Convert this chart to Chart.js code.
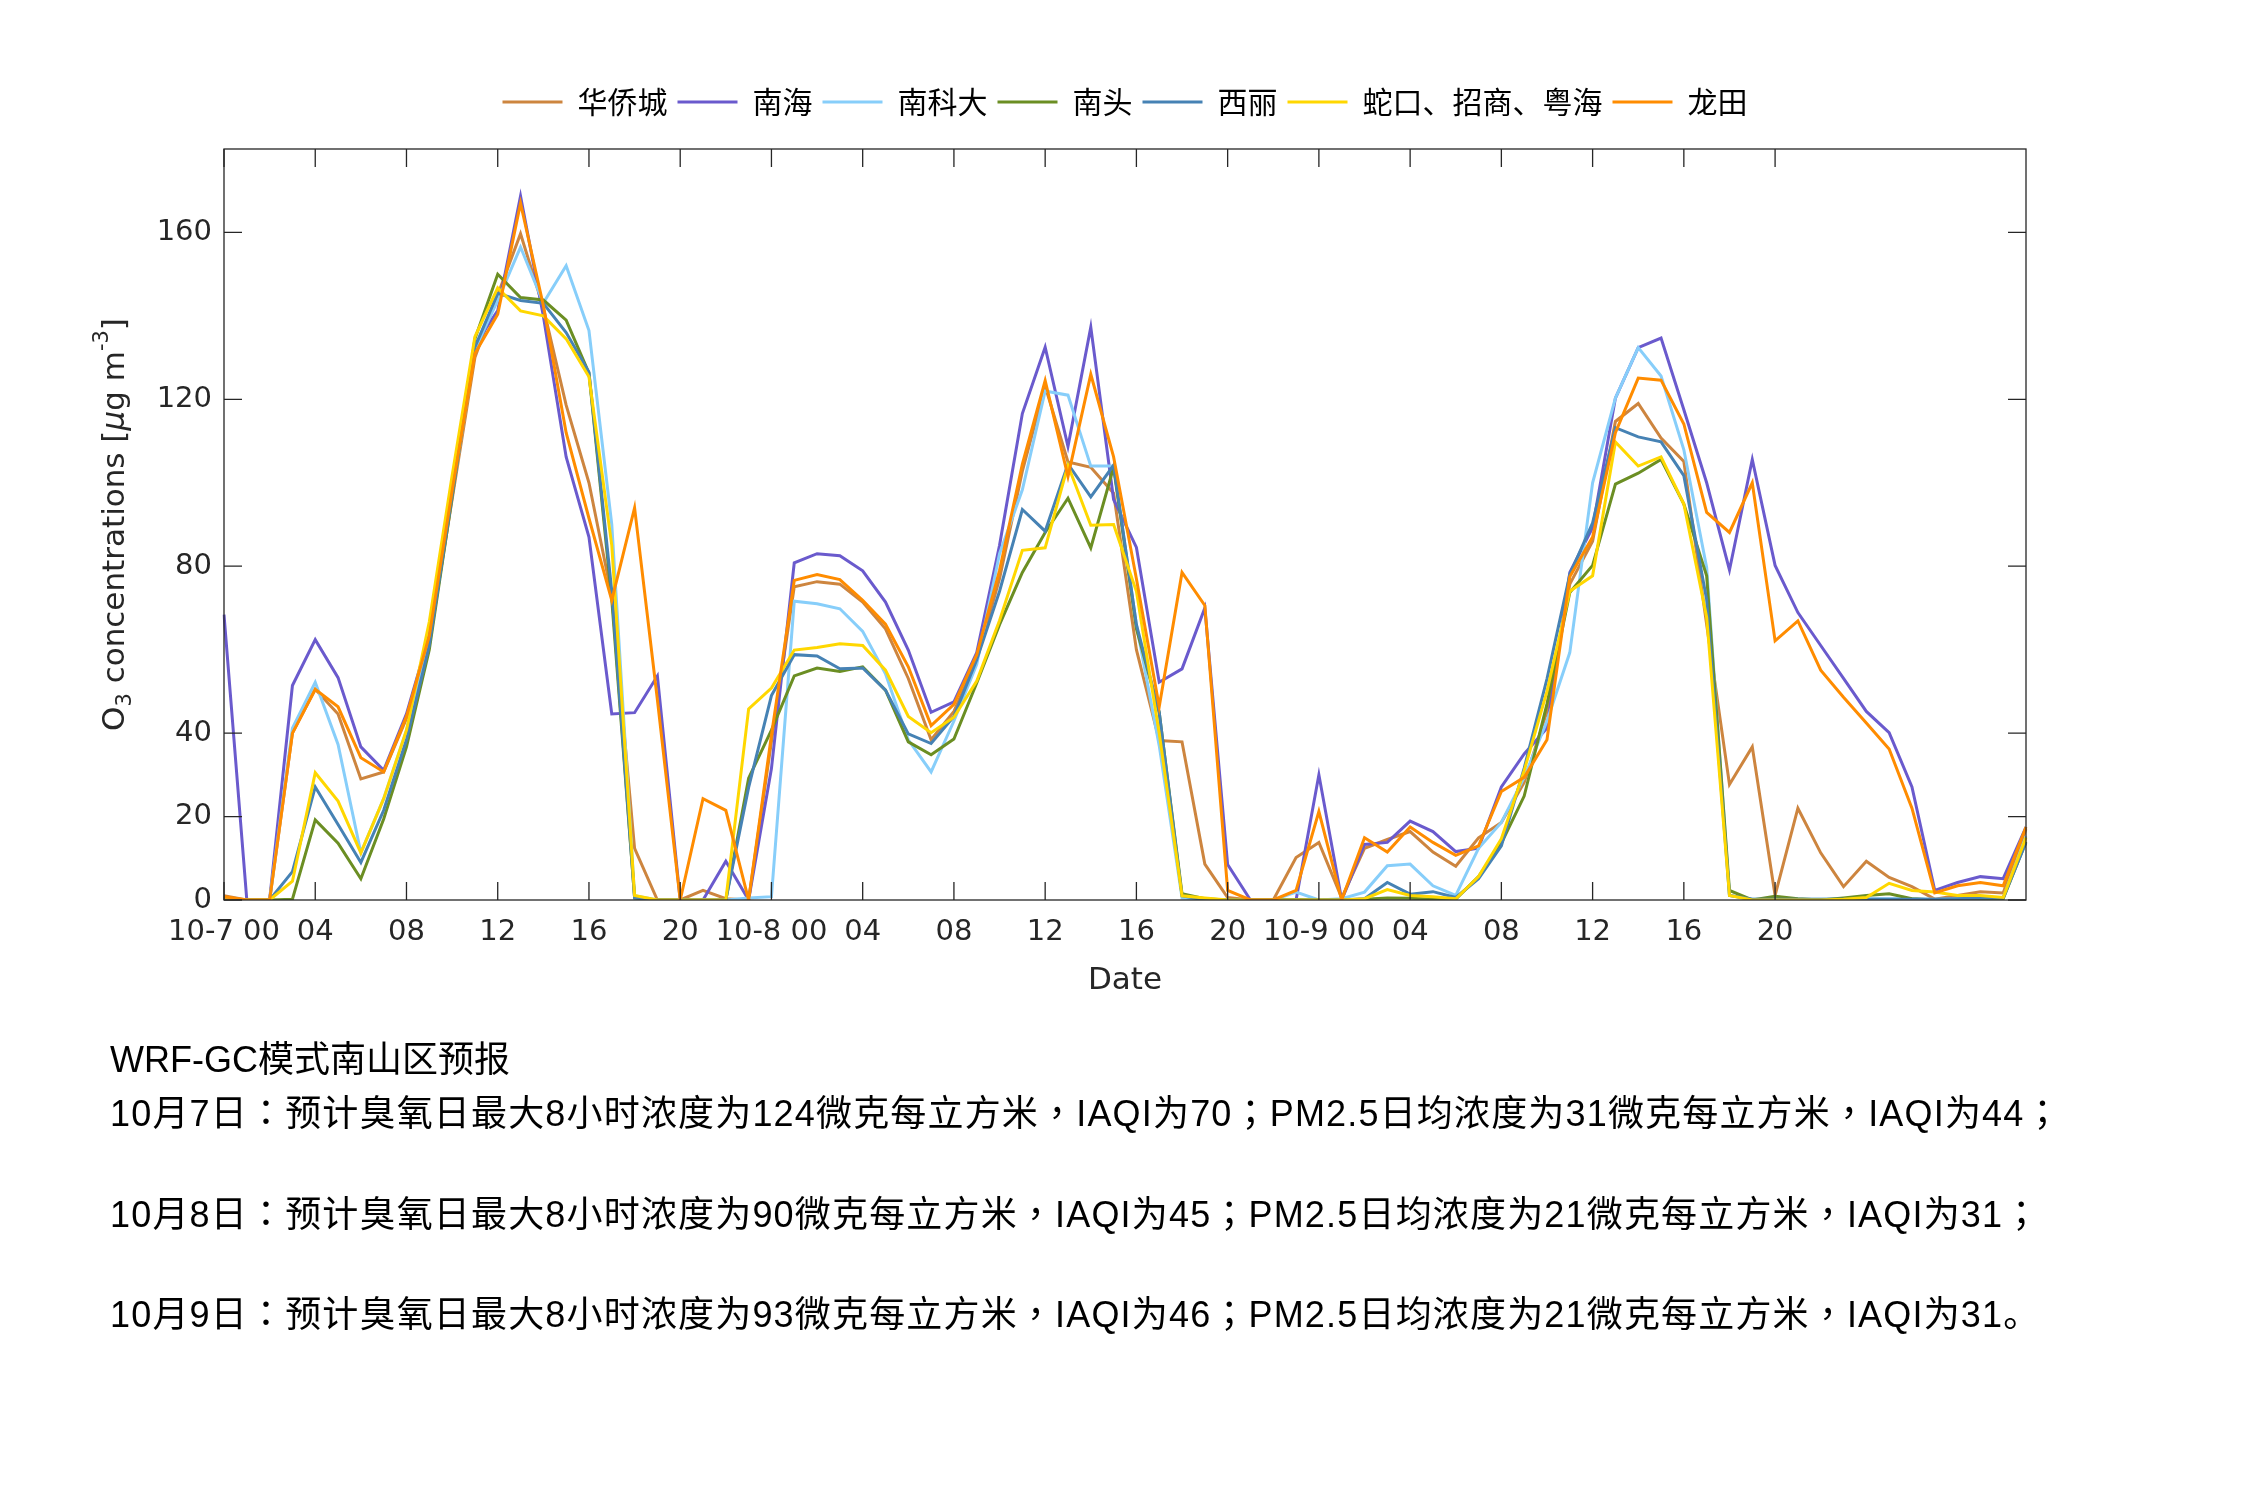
<!DOCTYPE html>
<html>
<head>
<meta charset="utf-8">
<script src="https://cdn.jsdelivr.net/npm/chart.js@4.4.1/dist/chart.umd.min.js"></script>
<style>
  html, body { margin: 0; padding: 0; background: #ffffff; }
  #wrap { position: relative; width: 2250px; height: 1500px; background: #ffffff; overflow: hidden; }
  #c { position: absolute; left: 0; top: 0; }
  .t { position: absolute; left: 110px; font-family: 'Liberation Sans', 'Noto Sans CJK SC', sans-serif; font-size: 36px; line-height: 36px; color: #000000; white-space: nowrap; }
  .p { font-family: 'Noto Sans CJK TC', 'Noto Sans CJK SC', sans-serif; }
</style>
</head>
<body>
<div id="wrap">
  <canvas id="c" width="2250" height="1500"></canvas>
  <div class="t" style="top:1042px">WRF-GC模式南山区预报</div>
  <div class="t body" style="top:1092px">10月7日：预计臭氧日最大8小时浓度为124微克每立方米，IAQI为70；PM2.5日均浓度为31微克每立方米，IAQI为44；</div>
  <div class="t body" style="top:1193px">10月8日：预计臭氧日最大8小时浓度为90微克每立方米，IAQI为45；PM2.5日均浓度为21微克每立方米，IAQI为31；</div>
  <div class="t body" style="top:1293px">10月9日：预计臭氧日最大8小时浓度为93微克每立方米，IAQI为46；PM2.5日均浓度为21微克每立方米，IAQI为31。</div>
</div>
<script>
// ---- categories ----
const days = ['10-7', '10-8', '10-9', '10-10'];
const hourCount = 80;
const xTickHours = [0, 4, 8, 12, 16, 20, 24, 28, 32, 36, 40, 44, 48, 52, 56, 60, 64, 68];
const yTickValues = [0, 20, 40, 80, 120, 160];

// ---- series names & colours ----
const seriesNames = ['华侨城', '南海', '南科大', '南头', '西丽', '蛇口、招商、粤海', '龙田'];
const seriesColors = ['#CD853F', '#6A5ACD', '#87CEFA', '#6B8E23', '#4682B4', '#FFD700', '#FF8C00'];

// ---- series values (hourly, O3 ug/m3) ----
const huaqiaocheng = [
  1, 0, 0, 40, 50.5, 44.6, 29, 30.7, 43.5, 62,
  96, 130, 145, 159.7, 142, 118.6, 100, 72.9, 12.4, 0,
  0, 2.3, 0.3, 0, 38, 75.1, 76.3, 75.7, 71.4, 65,
  53.1, 38.4, 45.2, 57.6, 77, 102.8, 123.2, 105, 103.7, 97.5,
  60, 38.2, 37.9, 8.6, 0.6, 0, 0, 10.2, 13.8, 0.5,
  12.4, 14.5, 16.4, 11.5, 8.1, 14.9, 18.6, 28.2, 45.2, 75.7,
  86, 114.7, 119, 110.7, 105.1, 66, 27.7, 36.7, 1.1, 22,
  11.3, 3.2, 9.3, 5.4, 3.2, 0.2, 1.1, 2, 1.7, 17
];
const nanhai = [
  68.4, 0, 0, 51.4, 62.4, 53.3, 36.7, 31.1, 44.6, 63.5,
  98, 133, 141.3, 168.7, 140, 106.2, 87, 44.6, 44.9, 53.7,
  0, 0, 9.3, 0, 31.5, 80.8, 83, 82.5, 78.9, 71.4,
  59.9, 45, 47.5, 59.3, 85, 116.6, 132.5, 108.7, 137.3, 96,
  84.5, 52.2, 55.4, 70, 8.5, 0, 0, 0, 30, 0,
  13.3, 13.8, 18.9, 16.4, 11.6, 12.4, 27.1, 35, 41.2, 78.5,
  89.3, 120.3, 132.4, 134.7, 117.5, 100, 79.1, 105.6, 80.2, 68.9,
  61, 53.1, 45.2, 40.1, 27.1, 2.3, 4.2, 5.6, 5.1, 17.5
];
const nankeda = [
  0, 0, 0, 41.2, 52.2, 37.3, 11.3, 24.3, 40.7, 62,
  97, 132, 143.7, 156.5, 143.1, 152, 136.5, 90, 1, 0,
  0, 0, 0, 0.5, 0.8, 71.6, 71, 69.8, 64.4, 54.2,
  38.4, 30.7, 42.9, 56.5, 83, 98.3, 122, 121, 104, 104,
  66, 37, 0.5, 0, 0, 0, 0, 1.9, 0, 0.3,
  1.9, 8.2, 8.6, 3.4, 1.1, 12.4, 18.6, 29.4, 42.9, 59.3,
  100, 120.3, 132.4, 125.6, 107.9, 79.7, 1.1, 0.2, 0.2, 0.2,
  0.2, 0.3, 0.3, 0.3, 0.3, 0.2, 0.3, 0.5, 0.5, 15.3
];
const nantou = [
  0, 0, 0, 0.2, 19.2, 13.6, 5.1, 19.4, 36.7, 60,
  96.5, 134.5, 150, 144.4, 143.8, 139, 126.3, 72, 0.5, 0,
  0, 0, 0, 29.2, 40.7, 53.7, 55.6, 54.8, 55.9, 50.3,
  37.9, 34.8, 38.6, 52, 66, 78.5, 88.1, 96.3, 84.4, 103.7,
  65, 45, 1.5, 0.3, 0, 0, 0, 0.1, 0, 0,
  0.2, 0.5, 0.4, 0.2, 0.2, 5.6, 13.6, 24.9, 47, 73.7,
  80.2, 99.7, 102.3, 105.6, 94.9, 77.7, 2.3, 0, 0.9, 0.3,
  0, 0.5, 1.1, 1.5, 0.3, 0, 0.2, 0.3, 0.3, 14
];
const xili = [
  0, 0, 0, 6.8, 27.1, 18.1, 9, 21.5, 38.4, 61,
  97, 132.5, 145.4, 143.7, 143, 136, 126.5, 74, 0.5, 0,
  0, 0, 0, 27, 49, 58.8, 58.5, 55.4, 55.6, 50.3,
  39.8, 37.5, 44, 57.6, 74, 93.6, 88.4, 104.5, 96.6, 104.2,
  66, 45, 1, 0, 0, 0, 0, 0, 0, 0,
  0.3, 4.2, 1.4, 2, 0.6, 5.1, 13, 31.6, 53, 78,
  90.4, 113.2, 111, 109.8, 101.7, 72, 1.1, 0.2, 0.2, 0.2,
  0.2, 0.2, 0.2, 0.2, 0.2, 0.2, 0.3, 0.5, 0.5, 13.8
];
const shekou = [
  0, 0, 0, 4.5, 30.5, 23.7, 11.3, 24.3, 40.7, 66.7,
  101.7, 135, 146.7, 141.2, 140, 134.5, 125.4, 85, 1.1, 0,
  0, 0, 0, 45.8, 50.8, 59.9, 60.5, 61.4, 61, 55.1,
  44, 40.1, 43.8, 52.5, 67, 83.8, 84.4, 104.2, 89.8, 90,
  74, 40, 1, 0.5, 0, 0, 0, 0, 0, 0,
  0.3, 2.5, 1.1, 0.8, 0.3, 5.6, 14.7, 31, 50, 74,
  77.7, 109.8, 104, 106.2, 94.9, 67.8, 1.1, 0, 0, 0,
  0, 0.2, 0.6, 4, 2.3, 1.9, 1.1, 1.1, 0.6, 15
];
const longtian = [
  0.8, 0, 0, 40, 50.5, 46.3, 34.1, 30.7, 44, 63.3,
  98, 131, 140.4, 167, 142.5, 112, 91.5, 71.8, 94, 48,
  0, 24.3, 21.5, 0, 39.5, 76.6, 78, 76.8, 71.8, 66.1,
  55.9, 41.8, 46.9, 58.8, 79, 104.5, 124.5, 101.5, 126, 106.2,
  77, 46.3, 78.5, 70.6, 2.3, 0, 0, 2.3, 21.2, 0,
  14.9, 11.5, 17.5, 13.8, 10.7, 13, 26, 29.4, 38.4, 77.5,
  87, 112, 125.1, 124.6, 114.1, 92.9, 88.1, 100, 62.1, 66.9,
  55.1, 48.6, 42.4, 36.2, 22, 1.7, 3.4, 4.2, 3.4, 17.5
];
const seriesValues = [huaqiaocheng, nanhai, nankeda, nantou, xili, shekou, longtian];

// ---- build category labels ----
const hourLabels = [];
for (let i = 0; i < hourCount; i++) {
  const d = Math.floor(i / 24), h = i % 24;
  hourLabels.push(days[d] + ' ' + String(h).padStart(2, '0'));
}
function tickText(idx) {
  const h = idx % 24;
  if (h === 0) return days[Math.floor(idx / 24)] + ' 00';
  return String(h).padStart(2, '0');
}

// centred full-width punctuation, and stretch the forecast lines to the reference length
(function fitText() {
  const lines = document.querySelectorAll('.body');
  lines.forEach(el => {
    const txt = el.textContent;
    el.textContent = '';
    for (const ch of txt) {
      if ('：，；'.includes(ch)) {
        const s = document.createElement('span');
        s.className = 'p';
        s.textContent = ch;
        el.appendChild(s);
      } else {
        el.appendChild(document.createTextNode(ch));
      }
    }
  });
  const w = lines[0].getBoundingClientRect().width;
  const n = lines[0].textContent.length;
  const ls = (1952 - w) / n;
  lines.forEach(el => { el.style.letterSpacing = ls.toFixed(2) + 'px'; });
})();

const AX = '#262626';
const FONT = "'DejaVu Sans', 'Noto Sans CJK SC', sans-serif";
const CJK = "'Noto Sans CJK SC', 'DejaVu Sans', sans-serif";
Chart.defaults.font.family = FONT;
Chart.defaults.color = AX;

const boxPlugin = {
  id: 'matlabBox',
  afterDraw(chart) {
    const { ctx, chartArea: a } = chart;
    const x = chart.scales.x, y = chart.scales.y;
    ctx.save();
    ctx.strokeStyle = AX;
    ctx.lineWidth = 1.3;
    ctx.strokeRect(a.left, a.top, a.right - a.left, a.bottom - a.top);
    const L = 18;
    ctx.beginPath();
    xTickHours.forEach(v => {
      const px = x.getPixelForValue(v);
      ctx.moveTo(px, a.bottom); ctx.lineTo(px, a.bottom - L);
      ctx.moveTo(px, a.top); ctx.lineTo(px, a.top + L);
    });
    yTickValues.forEach(v => {
      const py = y.getPixelForValue(v);
      ctx.moveTo(a.left, py); ctx.lineTo(a.left + L, py);
      ctx.moveTo(a.right, py); ctx.lineTo(a.right - L, py);
    });
    ctx.stroke();

    // y-axis title with subscript / superscript
    const parts = [
      { t: 'O', f: "31px " + FONT, dy: 0 },
      { t: '3', f: "21px " + FONT, dy: 10 },
      { t: ' concentrations [', f: "31px " + FONT, dy: 0 },
      { t: 'μ', f: "italic 31px " + FONT, dy: 0 },
      { t: 'g m', f: "31px " + FONT, dy: 0 },
      { t: '-3', f: "21px " + FONT, dy: -13 },
      { t: ']', f: "31px " + FONT, dy: 0 }
    ];
    let total = 0;
    parts.forEach(p => { ctx.font = p.f; p.w = ctx.measureText(p.t).width; total += p.w; });
    const cy = (a.top + a.bottom) / 2;
    ctx.translate(116, cy);
    ctx.rotate(-Math.PI / 2);
    ctx.fillStyle = AX;
    ctx.textBaseline = 'middle';
    ctx.textAlign = 'left';
    let cx = -total / 2;
    parts.forEach(p => { ctx.font = p.f; ctx.fillText(p.t, cx, p.dy); cx += p.w; });
    ctx.restore();
  }
};

const datasets = seriesNames.map((name, i) => ({
  label: name,
  data: seriesValues[i],
  borderColor: seriesColors[i],
  backgroundColor: seriesColors[i],
  borderWidth: 3,
  pointRadius: 0,
  tension: 0,
  fill: false,
  order: seriesNames.length - i,
  xAxisID: 'x',
  yAxisID: 'y'
}));

new Chart(document.getElementById('c'), {
  type: 'line',
  data: { labels: hourLabels, datasets },
  options: {
    responsive: false,
    animation: false,
    devicePixelRatio: 1,
    layout: { padding: { left: 0, right: 0, top: 77, bottom: 500 } },
    plugins: {
      tooltip: { enabled: false },
      legend: {
        display: true,
        position: 'top',
        align: 'center',
        labels: {
          font: { size: 30, family: CJK },
          color: '#000000',
          boxWidth: 60,
          boxHeight: 3,
          padding: 10,
          sort: (a, b) => a.datasetIndex - b.datasetIndex,
          generateLabels(chart) {
            const items = Chart.defaults.plugins.legend.labels.generateLabels(chart);
            items.forEach(it => { it.lineWidth = 0; it.fillStyle = it.strokeStyle; });
            return items;
          }
        }
      }
    },
    scales: {
      x: {
        type: 'category',
        position: 'bottom',
        offset: false,
        grid: { display: false, drawTicks: false },
        border: { display: false },
        ticks: {
          autoSkip: false, maxRotation: 0, minRotation: 0, padding: 15,
          font: { size: 29 }, color: AX,
          callback: (v) => tickText(v)
        },
        afterBuildTicks: (s) => { s.ticks = xTickHours.map(v => ({ value: v })); },
        title: { display: true, text: 'Date', font: { size: 31 }, color: AX, padding: 0 },
        afterFit: (s) => { s.height = 100; }
      },
      x2: {
        type: 'category',
        position: 'top',
        offset: false,
        grid: { display: false, drawTicks: false },
        border: { display: false },
        ticks: { display: false },
        afterFit: (s) => { s.height = 22; }
      },
      y: {
        type: 'linear',
        position: 'left',
        min: 0, max: 180,
        grid: { display: false, drawTicks: false },
        border: { display: false },
        ticks: { padding: 12, font: { size: 29 }, color: AX },
        afterBuildTicks: (s) => { s.ticks = yTickValues.map(v => ({ value: v })); },
        afterFit: (s) => { s.width = 224; }
      },
      y2: {
        type: 'linear',
        position: 'right',
        min: 0, max: 180,
        grid: { display: false, drawTicks: false },
        border: { display: false },
        ticks: { display: false },
        afterFit: (s) => { s.width = 224; }
      }
    }
  },
  plugins: [boxPlugin]
});
</script>
</body>
</html>
